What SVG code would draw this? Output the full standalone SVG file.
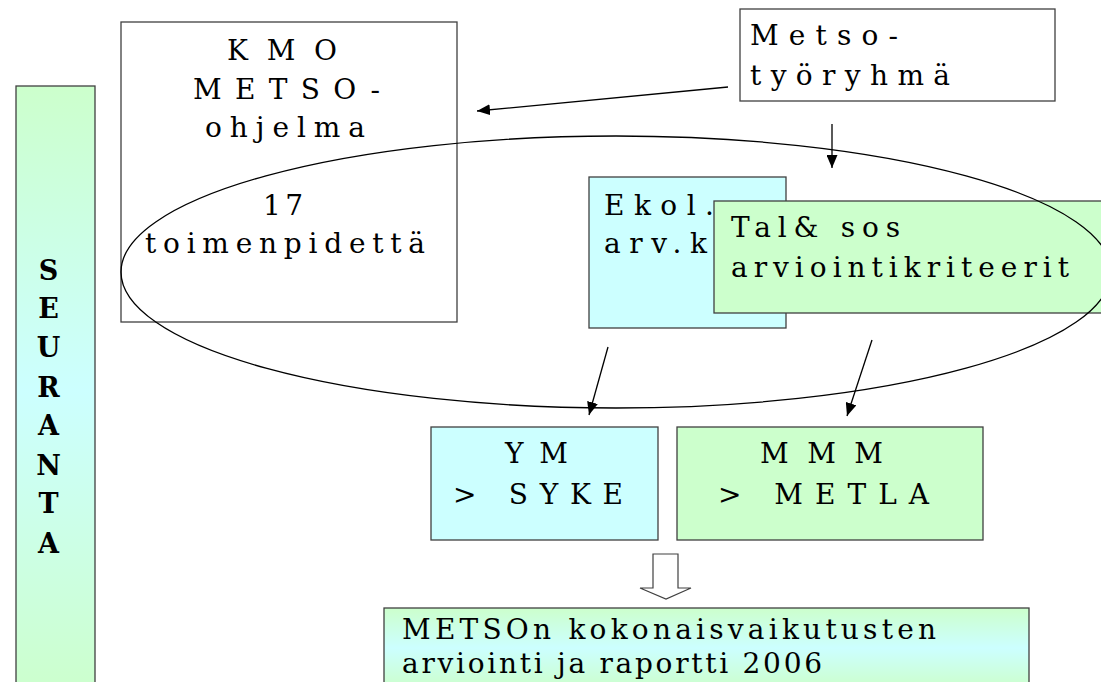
<svg xmlns="http://www.w3.org/2000/svg" width="1101" height="682" viewBox="0 0 1101 682">
<style>
text{font-family:"DejaVu Serif","Liberation Serif",serif;font-size:28px;fill:#000}
.box{stroke:#404040;stroke-width:1.3}
.line{stroke:#000;stroke-width:1.3;fill:none}
.bold{font-weight:bold;text-anchor:middle;font-size:27px}
</style>
<defs>
<linearGradient id="gSeu" x1="0" y1="0" x2="0" y2="1">
<stop offset="0" stop-color="#CCFFCC"/><stop offset="0.5" stop-color="#CCFFFF"/><stop offset="1" stop-color="#CCFFCC"/>
</linearGradient>
<linearGradient id="gBot" x1="0" y1="0" x2="0" y2="1">
<stop offset="0" stop-color="#CCFFCC"/><stop offset="0.5" stop-color="#CCFFFF"/><stop offset="1" stop-color="#CCFFCC"/>
</linearGradient>
<marker id="ah" markerUnits="userSpaceOnUse" markerWidth="13" markerHeight="11" refX="13" refY="5.5" orient="auto">
<path d="M0,0 L13,5.5 L0,11 z" fill="#000"/>
</marker>
</defs>
<rect width="1101" height="682" fill="#fff"/>

<g id="seuranta">
<rect class="box" x="16" y="86" width="79" height="610" fill="url(#gSeu)"/>
<text class="bold"><tspan x="48.5" y="280">S</tspan><tspan x="48.5" y="318">E</tspan><tspan x="48.5" y="357">U</tspan><tspan x="48.5" y="397">R</tspan><tspan x="48.5" y="435">A</tspan><tspan x="48.5" y="475">N</tspan><tspan x="48.5" y="513">T</tspan><tspan x="48.5" y="553">A</tspan></text>
</g>

<g id="kmo">
<rect class="box" x="121" y="22" width="336" height="300" fill="#fff"/>
<text x="227" y="60" textLength="110" lengthAdjust="spacing">KMO</text>
<text x="193" y="99" textLength="187" lengthAdjust="spacing">METSO-</text>
<text x="205" y="137" textLength="160" lengthAdjust="spacing">ohjelma</text>
<text x="263" y="215" textLength="40" lengthAdjust="spacing">17</text>
<text x="145" y="253" textLength="280" lengthAdjust="spacing">toimenpidettä</text>
</g>

<g id="metso-tyoryhma">
<rect class="box" x="740" y="9" width="315" height="92" fill="#fff"/>
<text x="750" y="45" textLength="148" lengthAdjust="spacing">Metso-</text>
<text x="750" y="85" textLength="200" lengthAdjust="spacing">työryhmä</text>
</g>

<g id="ekol">
<rect class="box" x="589" y="177" width="197" height="151" fill="#CCFFFF"/>
<text x="604" y="215" textLength="110" lengthAdjust="spacing">Ekol.</text>
<text x="604" y="253" textLength="103" lengthAdjust="spacing">arv.k</text>
</g>

<g id="talsos">
<rect class="box" x="714" y="201" width="390" height="112" fill="#CCFFCC"/>
<text x="731" y="237" textLength="169" lengthAdjust="spacing">Tal&amp; sos</text>
<text x="731" y="277" textLength="338" lengthAdjust="spacing">arviointikriteerit</text>
</g>

<g id="ym">
<rect class="box" x="431" y="427" width="227" height="113" fill="#CCFFFF"/>
<text x="505" y="463" textLength="63" lengthAdjust="spacing">YM</text>
<text x="453" y="504" textLength="170" lengthAdjust="spacing">&gt; SYKE</text>
</g>

<g id="mmm">
<rect class="box" x="677" y="427" width="306" height="113" fill="#CCFFCC"/>
<text x="760" y="463" textLength="123" lengthAdjust="spacing">MMM</text>
<text x="718" y="504" textLength="211" lengthAdjust="spacing">&gt; METLA</text>
</g>

<g id="raportti">
<rect class="box" x="384" y="608" width="645" height="80" fill="url(#gBot)"/>
<text x="402" y="639" textLength="534" lengthAdjust="spacing">METSOn kokonaisvaikutusten</text>
<text x="402" y="673" textLength="420" lengthAdjust="spacing">arviointi ja raportti 2006</text>
</g>

<g id="connectors">
<ellipse class="line" cx="616" cy="272" rx="495" ry="136"/>
<line class="line" x1="728" y1="87" x2="477" y2="111" marker-end="url(#ah)"/>
<line class="line" x1="832" y1="124" x2="832" y2="168" marker-end="url(#ah)"/>
<line class="line" x1="608" y1="347" x2="589" y2="415" marker-end="url(#ah)"/>
<line class="line" x1="872" y1="340" x2="847" y2="416" marker-end="url(#ah)"/>
<polygon points="653,554 678,554 678,588 691,588 666,599 640,588 653,588" fill="#fff" stroke="#404040" stroke-width="1.2"/>
</g>
</svg>
